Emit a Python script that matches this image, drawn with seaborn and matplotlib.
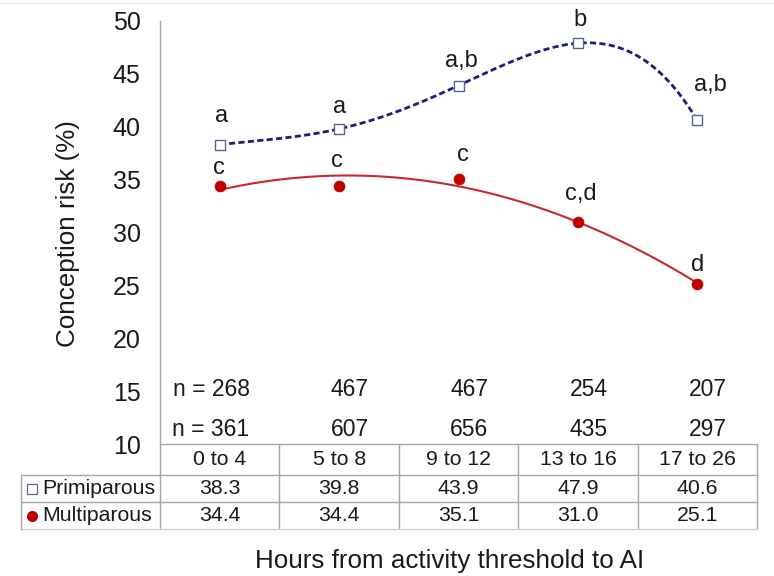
import numpy as np
import pandas as pd
import matplotlib
matplotlib.use("Agg")
import matplotlib.pyplot as plt
import matplotlib.transforms as mtransforms
from matplotlib.lines import Line2D
import seaborn as sns

# ---------------- data ----------------
categories = ["0 to 4", "5 to 8", "9 to 12", "13 to 16", "17 to 26"]
primiparous = [38.3, 39.8, 43.9, 47.9, 40.6]
multiparous = [34.4, 34.4, 35.1, 31.0, 25.1]
n_primiparous = [268, 467, 467, 254, 207]
n_multiparous = [361, 607, 656, 435, 297]
letters_primiparous = ["a", "a", "a,b", "b", "a,b"]
letters_multiparous = ["c", "c", "c", "c,d", "d"]
series_names = ["Primiparous", "Multiparous"]
y_ticks = [10, 15, 20, 25, 30, 35, 40, 45, 50]

# ---------------- style ----------------
sns.set_style("white")
plt.rcParams["font.family"] = ["Liberation Sans", "DejaVu Sans"]
TXT = "#1a1a1a"
GRID = "#a6a6a6"
BLUE = "#1c1f78"
BLUE_EDGE = "#5b6792"
RED = "#c00000"
RED_LINE = "#c8282e"

W, H = 774, 576
fig = plt.figure(figsize=(W / 100, H / 100), dpi=100)
ax = fig.add_axes([160 / W, 1 - 444 / H, (757 - 160) / W, (444 - 21) / H])

xs = np.arange(len(categories))

# polynomial trendlines (as in the original spreadsheet chart)
xx = np.linspace(xs[0], xs[-1], 300)
blue_fit = np.polyval(np.polyfit(xs, primiparous, 4), xx)
red_fit = np.polyval(np.polyfit(xs, multiparous, 2), xx)
df_curves = pd.DataFrame({"x": xx, "p": blue_fit, "m": red_fit})

sns.lineplot(data=df_curves, x="x", y="p", ax=ax, color=BLUE, lw=2.0,
             dashes=False, estimator=None, sort=False)
ax.lines[-1].set_dashes([2.2, 1.2])
sns.lineplot(data=df_curves, x="x", y="m", ax=ax, color=RED_LINE, lw=1.5,
             estimator=None, sort=False)

df_pts = pd.DataFrame({"x": xs, "p": primiparous, "m": multiparous})
sns.scatterplot(data=df_pts, x="x", y="p", ax=ax, marker="s", s=60,
                facecolor="white", edgecolor=BLUE_EDGE, linewidth=1.0, zorder=5)
sns.scatterplot(data=df_pts, x="x", y="m", ax=ax, marker="o", s=62,
                color=RED, edgecolor=RED, linewidth=0.5, zorder=5)

# significance letters
off_p = [(1.5, 23), (0, 16), (3, 18.5), (2, 17), (13, 29)]
off_m = [(-1, 12), (-2, 19), (4, 18), (3, 22), (0, 13)]
LET_FS = 17
for i in range(len(categories)):
    ax.annotate(letters_primiparous[i], (xs[i], primiparous[i]), xytext=off_p[i],
                textcoords="offset pixels", ha="center", va="baseline",
                fontsize=LET_FS, color=TXT)
    ax.annotate(letters_multiparous[i], (xs[i], multiparous[i]), xytext=off_m[i],
                textcoords="offset pixels", ha="center", va="baseline",
                fontsize=LET_FS, color=TXT)

# n counts
for i in range(len(categories)):
    pre = "n = " if i == 0 else ""
    ax.text(xs[i] + 0.25, 15.2, f"{pre}{n_primiparous[i]}", ha="right",
            va="center", fontsize=16.5, color=TXT)
    ax.text(xs[i] + 0.25, 11.4, f"{pre}{n_multiparous[i]}", ha="right",
            va="center", fontsize=16.5, color=TXT)

# axes
ax.set_xlim(-0.5, len(categories) - 0.5)
ax.set_ylim(10, 50)
ax.set_yticks(y_ticks)
ax.set_yticklabels([str(t) for t in y_ticks], fontsize=18, color=TXT)
ax.set_xticks([])
ax.set_xlabel("")
ax.set_ylabel("")
ax.tick_params(axis="y", direction="out", length=5.5, width=1, color=GRID, pad=8.5)
for s in ["top", "right"]:
    ax.spines[s].set_visible(False)
for s in ["left", "bottom"]:
    ax.spines[s].set_color(GRID)
    ax.spines[s].set_linewidth(1)

fig.text(68 / W, 1 - 234 / H, "Conception risk (%)", rotation=90,
         ha="center", va="center", fontsize=18.7, color=TXT)
fig.text(450 / W, 1 - 561 / H, "Hours from activity threshold to AI",
         ha="center", va="center", fontsize=18.7, color=TXT)

# ---------------- data table ----------------
bt = mtransforms.blended_transform_factory(ax.transData, fig.transFigure)
fy = lambda py: 1 - py / H
fx = lambda px: px / W
y_top, y_r1, y_r2, y_bot = 444, 475, 502, 529
x_right = len(categories) - 0.5
for b in np.arange(-0.5, len(categories), 1.0):
    fig.add_artist(Line2D([b, b], [fy(y_top), fy(y_bot)], transform=bt,
                          color=GRID, lw=1))
left_px = 21
for yy, col in [(y_r1, GRID), (y_r2, GRID), (y_bot, "#d0d0d0")]:
    fig.add_artist(Line2D([fx(left_px), fx(160)], [fy(yy), fy(yy)],
                          transform=fig.transFigure, color=col, lw=1))
    fig.add_artist(Line2D([-0.5, x_right], [fy(yy), fy(yy)], transform=bt,
                          color=col, lw=1))
fig.add_artist(Line2D([fx(left_px), fx(left_px)], [fy(y_r1), fy(y_bot)],
                      transform=fig.transFigure, color=GRID, lw=1))

TAB_FS = 15.3
for i, c in enumerate(categories):
    fig.text(xs[i], fy((y_top + y_r1) / 2), c, transform=bt, ha="center",
             va="center", fontsize=TAB_FS, color=TXT)
    fig.text(xs[i], fy((y_r1 + y_r2) / 2), f"{primiparous[i]:.1f}", transform=bt,
             ha="center", va="center", fontsize=TAB_FS, color=TXT)
    fig.text(xs[i], fy((y_r2 + y_bot) / 2), f"{multiparous[i]:.1f}", transform=bt,
             ha="center", va="center", fontsize=TAB_FS, color=TXT)

# legend keys inside the table
fig.add_artist(Line2D([fx(32)], [fy((y_r1 + y_r2) / 2)], transform=fig.transFigure,
                      marker="s", ms=6.5, mfc="white", mec=BLUE_EDGE, mew=0.9, ls=""))
fig.add_artist(Line2D([fx(32)], [fy((y_r2 + y_bot) / 2)], transform=fig.transFigure,
                      marker="o", ms=7, mfc=RED, mec=RED, ls=""))
fig.text(fx(42), fy((y_r1 + y_r2) / 2), series_names[0], ha="left", va="center",
         fontsize=TAB_FS, color=TXT)
fig.text(fx(42), fy((y_r2 + y_bot) / 2), series_names[1], ha="left", va="center",
         fontsize=TAB_FS, color=TXT)

# faint frame line at the top of the image
fig.add_artist(Line2D([0, 1], [fy(3), fy(3)], transform=fig.transFigure,
                      color="#e8e8e8", lw=1))

fig.savefig("out.png", dpi=100, facecolor="white")
